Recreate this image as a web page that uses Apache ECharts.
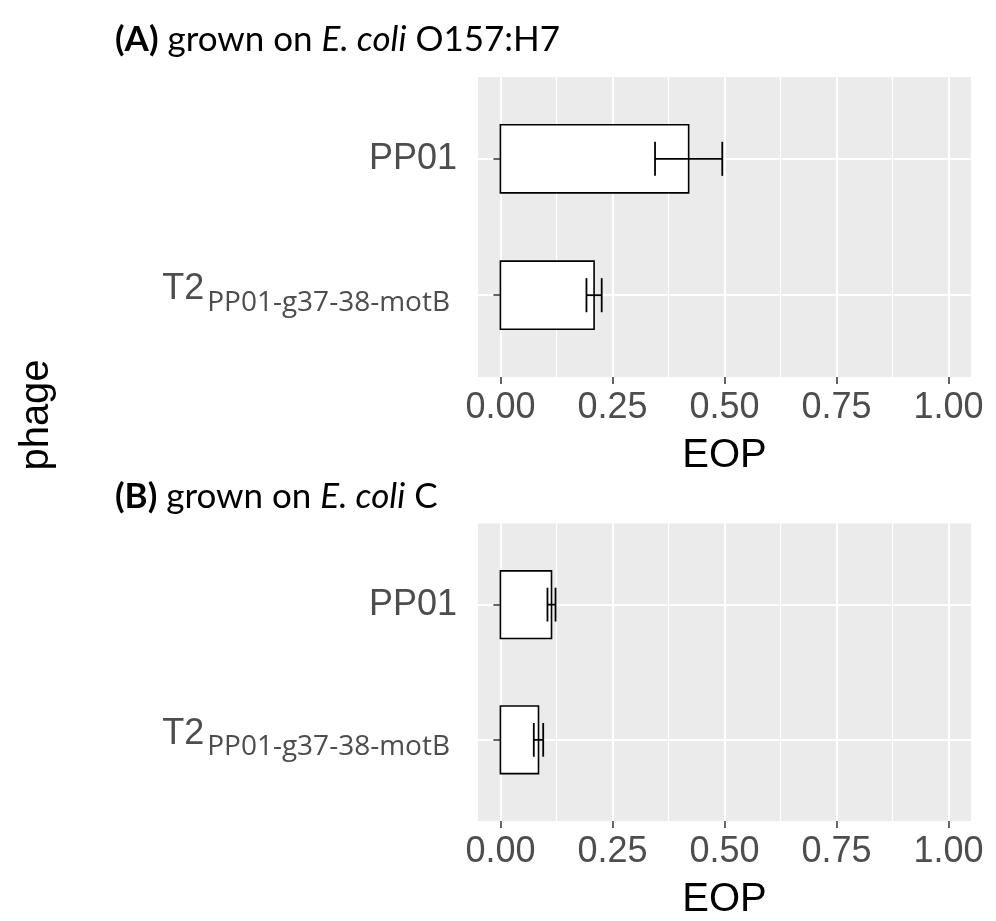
<!DOCTYPE html>
<html>
<head>
<meta charset="utf-8">
<script src="https://cdn.jsdelivr.net/npm/echarts@6/dist/echarts.min.js"></script>
<style>
  html, body { margin: 0; padding: 0; background: #ffffff; }
  #chart { width: 996px; height: 921px; }
</style>
</head>
<body>
<div id="chart"></div>
<script>
// Phage categories, listed bottom to top (value 1, 2 on the y axis)
const phageNames = ['T2', 'PP01'];
const phageSubscripts = ['PP01-g37-38-motB', ''];

// EOP axis ticks
const eopTicks = [0, 0.25, 0.5, 0.75, 1.0];
const eopMinorTicks = [0.125, 0.375, 0.625, 0.875];
const eopMin = -0.05;
const eopMax = 1.05;

// (A) grown on E. coli O157:H7 — mean EOP with error bar bounds
const hostA_mean = [0.209, 0.420];
const hostA_low  = [0.192, 0.345];
const hostA_high = [0.226, 0.495];

// (B) grown on E. coli C
const hostB_mean = [0.085, 0.114];
const hostB_low  = [0.0745, 0.105];
const hostB_high = [0.0955, 0.123];

// Panel headings: label, lead text, italic species, strain
const panelLabels  = ['(A)', '(B)'];
const panelLead    = [' grown on ', ' grown on '];
const panelSpecies = ['E. coli', 'E. coli'];
const panelStrain  = [' O157:H7', ' C'];

const AXIS_FONT = '"Liberation Sans", Arial, sans-serif';
const TITLE_FONT = 'Lato, "Open Sans", sans-serif';
const LABEL_GREY = '#4d4d4d';
const PANEL_GREY = '#ebebeb';

function buildRows(mean, low, high) {
  return phageNames.map((_, i) => [i + 1, mean[i], low[i], high[i]]);
}

// White bar with a black outline plus a horizontal error bar with caps
function renderBarWithError(params, api) {
  const y = api.value(0);
  const m = api.value(1);
  const lo = api.value(2);
  const hi = api.value(3);
  const topLeft = api.coord([0, y + 0.25]);
  const bottomRight = api.coord([m, y - 0.25]);
  const pLo = api.coord([lo, y]);
  const pHi = api.coord([hi, y]);
  const capTop = api.coord([lo, y + 0.125])[1];
  const capBottom = api.coord([lo, y - 0.125])[1];
  const stroke = { stroke: '#000000', lineWidth: 1.8, fill: null };
  return {
    type: 'group',
    children: [
      {
        type: 'rect',
        shape: {
          x: topLeft[0], y: topLeft[1],
          width: bottomRight[0] - topLeft[0],
          height: bottomRight[1] - topLeft[1]
        },
        style: { fill: '#ffffff', stroke: '#000000', lineWidth: 1.6 }
      },
      { type: 'line', shape: { x1: pLo[0], y1: pLo[1], x2: pHi[0], y2: pHi[1] }, style: stroke },
      { type: 'line', shape: { x1: pLo[0], y1: capTop, x2: pLo[0], y2: capBottom }, style: stroke },
      { type: 'line', shape: { x1: pHi[0], y1: capTop, x2: pHi[0], y2: capBottom }, style: stroke }
    ]
  };
}

function phageLabel(value) {
  const i = Math.round(value) - 1;
  if (phageSubscripts[i]) {
    return '{t|' + phageNames[i] + '}{s|' + phageSubscripts[i] + '}';
  }
  return '{m|' + phageNames[i] + '}';
}

const gridBoxes = [
  { left: 478, top: 77, width: 493, height: 300 },
  { left: 478, top: 523.5, width: 493, height: 300 }
];

const grids = gridBoxes.map(g => Object.assign({
  show: true, backgroundColor: PANEL_GREY, borderWidth: 0, containLabel: false
}, g));

const xAxes = [];
const yAxes = [];
gridBoxes.forEach((g, k) => {
  // minor vertical grid lines
  xAxes.push({
    type: 'value', gridIndex: k, min: eopMin, max: eopMax, position: 'top',
    axisLine: { show: false },
    axisTick: { show: false, customValues: eopMinorTicks },
    axisLabel: { show: false, customValues: eopMinorTicks },
    splitLine: { show: true, lineStyle: { color: '#ffffff', width: 1.2 } }
  });
  // main EOP axis
  xAxes.push({
    type: 'value', gridIndex: k, min: eopMin, max: eopMax, position: 'bottom',
    name: 'EOP', nameLocation: 'middle', nameGap: 59,
    nameTextStyle: { fontSize: 40, fontFamily: AXIS_FONT, color: '#000000' },
    axisLine: { show: false },
    axisTick: { show: true, length: 7, customValues: eopTicks, lineStyle: { color: '#333333', width: 1.5 } },
    axisLabel: {
      customValues: eopTicks, margin: 13,
      fontSize: 36, fontFamily: AXIS_FONT, color: LABEL_GREY,
      formatter: v => v.toFixed(2)
    },
    splitLine: { show: true, lineStyle: { color: '#ffffff', width: 2 } }
  });
  yAxes.push({
    type: 'value', gridIndex: k, min: 0.4, max: 2.6,
    axisLine: { show: false },
    axisTick: { show: true, length: 7, customValues: [1, 2], lineStyle: { color: '#333333', width: 1.5 } },
    axisLabel: {
      customValues: [1, 2], margin: 21,
      formatter: phageLabel,
      rich: {
        m: { fontSize: 36, fontFamily: AXIS_FONT, color: LABEL_GREY },
        t: { fontSize: 36, fontFamily: AXIS_FONT, color: LABEL_GREY, padding: [0, 0, 12, 0] },
        s: { fontSize: 28, fontFamily: '"Open Sans", sans-serif', color: LABEL_GREY, padding: [15, 7, 0, 3] }
      }
    },
    splitLine: { show: true, lineStyle: { color: '#ffffff', width: 2 } }
  });
});

const panelData = [
  buildRows(hostA_mean, hostA_low, hostA_high),
  buildRows(hostB_mean, hostB_low, hostB_high)
];

const series = panelData.map((rows, k) => ({
  type: 'custom',
  xAxisIndex: k * 2 + 1,
  yAxisIndex: k,
  renderItem: renderBarWithError,
  encode: { x: [1, 2, 3], y: 0 },
  data: rows,
  silent: true,
  z: 5
}));

const titleY = [40, 497];
const headings = panelLabels.map((lab, k) => ({
  type: 'text',
  x: 115, y: titleY[k],
  style: {
    text: '{b|' + lab + '}{r|' + panelLead[k] + '}{i|' + panelSpecies[k] + '}{r|' + panelStrain[k] + '}',
    fontSize: 35, fontFamily: TITLE_FONT, fill: '#000000',
    align: 'left', verticalAlign: 'middle',
    rich: {
      b: { fontSize: 35, fontFamily: TITLE_FONT, fontWeight: 'bold', color: '#000000' },
      r: { fontSize: 35, fontFamily: TITLE_FONT, color: '#000000' },
      i: { fontSize: 35, fontFamily: TITLE_FONT, fontStyle: 'italic', color: '#000000' }
    }
  }
}));

const chart = echarts.init(document.getElementById('chart'), null, { renderer: 'canvas' });
chart.setOption({
  animation: false,
  backgroundColor: '#ffffff',
  grid: grids,
  xAxis: xAxes,
  yAxis: yAxes,
  series: series,
  graphic: headings.concat([{
    type: 'text',
    x: 37, y: 415,
    rotation: Math.PI / 2,
    style: {
      text: 'phage', fontSize: 40, fontFamily: AXIS_FONT, fill: '#000000',
      align: 'center', verticalAlign: 'middle'
    }
  }])
});
</script>
</body>
</html>
